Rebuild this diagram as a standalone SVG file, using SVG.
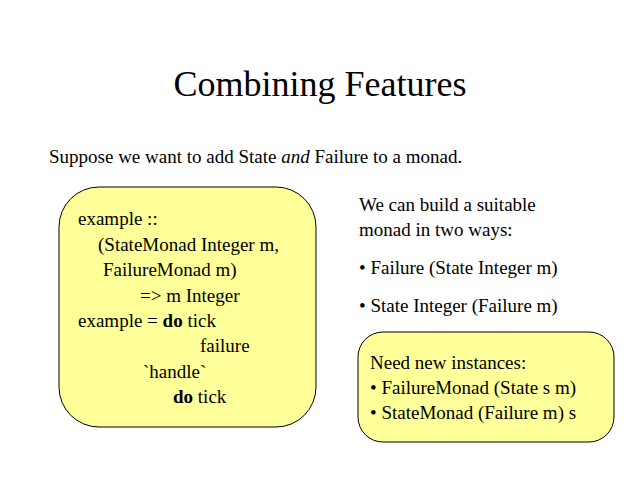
<svg xmlns="http://www.w3.org/2000/svg" width="640" height="480" viewBox="0 0 640 480" font-family="Liberation Serif">
<style>
.box{fill:#ffff99;stroke:#000;stroke-width:1}
</style>
<rect width="640" height="480" fill="#fff"/>
<text x="320" y="96" font-size="36" font-family="Liberation Serif" text-anchor="middle">Combining Features</text>
<text x="49" y="163" font-size="19" font-family="Liberation Serif">Suppose we want to add State <tspan font-style="italic">and</tspan> Failure to a monad.</text>
<g id="code">
<rect class="box" x="59" y="187" width="257" height="240" rx="40" ry="40"/>
<text x="78" y="225" font-size="19" font-family="Liberation Serif">example ::</text>
<text x="98" y="251" font-size="19" font-family="Liberation Serif">(StateMonad Integer m,</text>
<text x="103" y="276" font-size="19" font-family="Liberation Serif">FailureMonad m)</text>
<text x="140" y="302" font-size="19" font-family="Liberation Serif">=&gt; m Integer</text>
<text x="78" y="327" font-size="19" font-family="Liberation Serif">example = <tspan font-weight="bold">do</tspan> tick</text>
<text x="200" y="352" font-size="19" font-family="Liberation Serif">failure</text>
<text x="143" y="378" font-size="19" font-family="Liberation Serif">`handle`</text>
<text x="173" y="403" font-size="19" font-family="Liberation Serif"><tspan font-weight="bold">do</tspan> tick</text>
</g>
<g id="ways">
<text x="359" y="211" font-size="19" font-family="Liberation Serif">We can build a suitable</text>
<text x="359" y="236" font-size="19" font-family="Liberation Serif">monad in two ways:</text>
<text x="359" y="274" font-size="19" font-family="Liberation Serif">• Failure (State Integer m)</text>
<text x="359" y="312" font-size="19" font-family="Liberation Serif">• State Integer (Failure m)</text>
</g>
<g id="instances">
<rect class="box" x="358" y="332" width="256" height="110" rx="25" ry="25"/>
<text x="370" y="369" font-size="19" font-family="Liberation Serif">Need new instances:</text>
<text x="370" y="394" font-size="19" font-family="Liberation Serif">• FailureMonad (State s m)</text>
<text x="370" y="419" font-size="19" font-family="Liberation Serif">• StateMonad (Failure m) s</text>
</g>
</svg>
